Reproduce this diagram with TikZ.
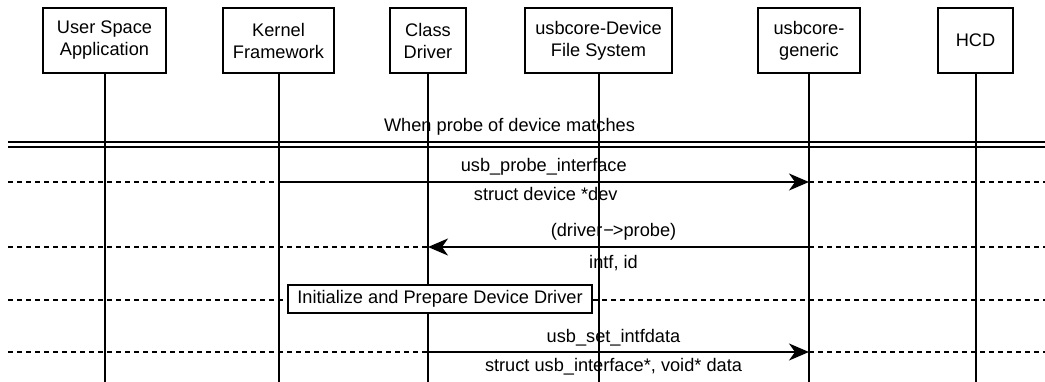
\documentclass[tikz,border=0pt]{standalone}
\usepackage{fontspec}
\setmainfont{Liberation Sans}
\usetikzlibrary{arrows.meta}
\begin{document}
\begin{tikzpicture}[x=1pt,y=-1pt,
  every node/.style={font=\fontsize{18.2}{22}\selectfont, inner sep=0pt},
  head/.style={draw, line width=2pt, fill=white, align=center, minimum height=65pt},
  life/.style={line width=2pt},
  sep/.style={line width=1.8pt, dash pattern=on 5pt off 4pt},
  msg/.style={line width=2pt, -{Stealth[length=20pt,width=17pt,inset=6pt]}},
  lblup/.style={pos=0.5, anchor=base, yshift=10pt},
  lbldn/.style={pos=0.5, anchor=base, yshift=-19pt},
  act/.style={draw, line width=2pt, fill=white, minimum height=28pt, minimum width=304pt}
]
\useasboundingbox (0,0) rectangle (1045,382);
% heads
\node[head, minimum width=123pt] (h1) at (104.5,40.5) {User Space\\Application};
\node[head, minimum width=111pt] (h2) at (278.5,40.5) {Kernel\\Framework};
\node[head, minimum width=76pt] (h3) at (428,40.5) {Class\\Driver};
\node[head, minimum width=147pt] (h4) at (598.5,40.5) {usbcore-Device\\File System};
\node[head, minimum width=102pt] (h5) at (809,40.5) {usbcore-\\generic};
\node[head, minimum width=75pt] (h6) at (975.5,40.5) {HCD};
% lifeline ends
\coordinate (e1) at (104.5,382);
\coordinate (e2) at (278.5,382);
\coordinate (e3) at (428,382);
\coordinate (e4) at (598.5,382);
\coordinate (e5) at (809,382);
\coordinate (e6) at (975.5,382);
\foreach \i in {1,...,6} {\draw[life] (h\i.south) -- (e\i);}
% frame double line
\coordinate (dl1) at (8,142); \coordinate (dr1) at (1045,142);
\coordinate (dl2) at (8,147); \coordinate (dr2) at (1045,147);
\draw[line width=2pt] (dl1) -- (dr1);
\draw[line width=2pt] (dl2) -- (dr2);
\node[anchor=base] (cond) at (509.5,132) {When probe of device matches};
% separators
\foreach \y/\n in {182/a,247/b,300/c,352/d} {
  \coordinate (sl\n) at (8,\y); \coordinate (sr\n) at (1045,\y);
  \draw[sep] (sl\n) -- (sr\n);
}
% message points
\coordinate (m1s) at (278.5,182); \coordinate (m1t) at (809,182);
\coordinate (m2s) at (809,247);   \coordinate (m2t) at (428,247);
\coordinate (m3s) at (428,352);   \coordinate (m3t) at (809,352);
\draw[msg] (m1s) -- node[lblup] (l1a) {usb\_probe\_interface}
                    node[lbldn, xshift=2pt] (l1b) {struct device *dev} (m1t);
\draw[msg] (m2s) -- node[lblup, xshift=-5pt] (l2a) {(driver{\kern1pt}−{\kern-1pt}>probe)}
                    node[lbldn, xshift=-5pt, yshift=-3pt] (l2b) {intf, id} (m2t);
\node[act] (init) at (440,299) {Initialize and Prepare Device Driver};
\draw[msg] (m3s) -- node[lblup, xshift=-5pt] (l3a) {usb\_set\_intfdata}
                    node[lbldn, xshift=-5pt] (l3b) {struct usb\_interface*, void* data} (m3t);
\end{tikzpicture}
\end{document}
